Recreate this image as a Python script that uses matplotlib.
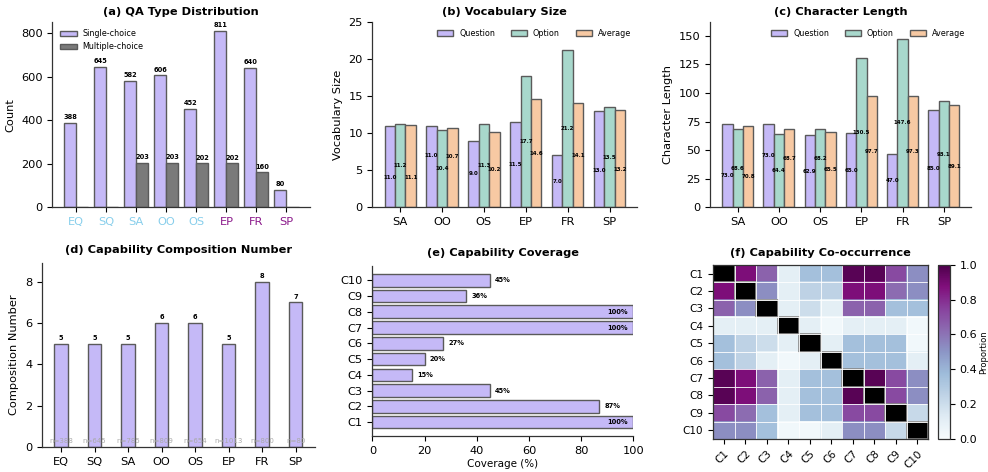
import numpy as np
import matplotlib
matplotlib.use("Agg")
import matplotlib.pyplot as plt
from matplotlib.patches import Rectangle

# ---- data ----
qa_types = ['EQ', 'SQ', 'SA', 'OO', 'OS', 'EP', 'FR', 'SP']
single_choice = [388, 645, 582, 606, 452, 811, 640, 80]
multi_choice = [0, 0, 203, 203, 202, 202, 160, 0]

len_types = ['SA', 'OO', 'OS', 'EP', 'FR', 'SP']
vocab_question = [11.0, 11.0, 9.0, 11.5, 7.0, 13.0]
vocab_option = [11.2, 10.4, 11.3, 17.7, 21.2, 13.5]
vocab_average = [11.1, 10.7, 10.2, 14.6, 14.1, 13.2]
char_question = [73.0, 73.0, 62.9, 65.0, 47.0, 85.0]
char_option = [68.6, 64.4, 68.2, 130.5, 147.6, 93.1]
char_average = [70.8, 68.7, 65.5, 97.7, 97.3, 89.1]

comp_number = [5, 5, 5, 6, 6, 5, 8, 7]
comp_n = [388, 645, 785, 809, 654, 1013, 800, 80]

capabilities = ['C1', 'C2', 'C3', 'C4', 'C5', 'C6', 'C7', 'C8', 'C9', 'C10']
coverage = [100, 87, 45, 15, 20, 27, 100, 100, 36, 45]

cooc = np.array([
    [1.00, 0.88, 0.65, 0.10, 0.35, 0.35, 0.97, 0.97, 0.72, 0.52],
    [0.88, 1.00, 0.52, 0.10, 0.25, 0.25, 0.88, 0.88, 0.62, 0.52],
    [0.65, 0.52, 1.00, 0.10, 0.20, 0.10, 0.65, 0.65, 0.35, 0.35],
    [0.10, 0.10, 0.10, 1.00, 0.10, 0.03, 0.10, 0.10, 0.10, 0.03],
    [0.35, 0.25, 0.20, 0.10, 1.00, 0.10, 0.35, 0.35, 0.35, 0.03],
    [0.35, 0.25, 0.10, 0.03, 0.10, 1.00, 0.35, 0.35, 0.35, 0.10],
    [0.97, 0.88, 0.65, 0.10, 0.35, 0.35, 1.00, 0.97, 0.72, 0.52],
    [0.97, 0.88, 0.65, 0.10, 0.35, 0.35, 0.97, 1.00, 0.72, 0.52],
    [0.72, 0.62, 0.35, 0.10, 0.35, 0.35, 0.72, 0.72, 1.00, 0.22],
    [0.52, 0.52, 0.35, 0.03, 0.03, 0.10, 0.52, 0.52, 0.22, 1.00],
])

# label shift multipliers for (b)/(c) value labels, to avoid overlap
vocab_shift = [[-1, 0, -1], [1, 0, 1], [0, 0, 0], [0, 0, 0], [0, 0, 0], [-1, 0, -1]]
char_shift = [[-1, 0, -1], [1, 0, 1], [0, 1, 0], [0, 0, 0], [0, 0, 0], [-1, 0, -1]]

# ---- style ----
LAV = '#c5b9f7'
TEAL = '#a8d8cc'
PEACH = '#f7c9a3'
GRAY = '#7a7a7a'
EDGE = '#5a5a5a'
TICK = 8.2
TITLE = 8.2
LEG = 5.8
plt.rcParams['font.family'] = 'DejaVu Sans'
plt.rcParams['axes.edgecolor'] = '#333333'
plt.rcParams['axes.linewidth'] = 0.9


def despine(ax):
    ax.spines['top'].set_visible(False)
    ax.spines['right'].set_visible(False)


fig = plt.figure(figsize=(9.88, 4.72), dpi=100)

# (a) QA Type Distribution
ax = fig.add_axes([0.053, 0.561, 0.261, 0.392])
x = np.arange(len(qa_types))
w = 0.4
ax.bar(x - w / 2, single_choice, w, color=LAV, edgecolor=EDGE, linewidth=1, label='Single-choice')
ax.bar(x + w / 2, multi_choice, w, color=GRAY, edgecolor=EDGE, linewidth=1, label='Multiple-choice')
for xi, v in zip(x, single_choice):
    ax.text(xi - w / 2, v + 12, str(v), ha='center', va='bottom', fontsize=4.8, fontweight='bold')
for xi, v in zip(x, multi_choice):
    if v > 0:
        ax.text(xi + w / 2, v + 12, str(v), ha='center', va='bottom', fontsize=4.8, fontweight='bold')
ax.set_xticks(x)
ax.set_xticklabels(qa_types, fontsize=TICK)
for i, t in enumerate(ax.get_xticklabels()):
    t.set_color('#87ceeb' if i < 5 else '#8b1a8b')
ax.set_ylim(0, 850)
ax.set_yticks([0, 200, 400, 600, 800])
ax.tick_params(axis='y', labelsize=TICK)
ax.set_ylabel('Count', fontsize=TICK)
ax.set_title('(a) QA Type Distribution', fontsize=TITLE, fontweight='bold', pad=5)
ax.legend(loc='upper left', fontsize=LEG, frameon=False, handlelength=2.1, handletextpad=0.7,
          borderaxespad=0.5, labelspacing=0.5)
despine(ax)


def grouped(ax, q, o, a, shifts, step, ymax, yticks, ylabel, title):
    x = np.arange(len(len_types))
    w = 0.25
    series = [(q, LAV, 'Question'), (o, TEAL, 'Option'), (a, PEACH, 'Average')]
    for k, (vals, col, lab) in enumerate(series):
        xs = x + (k - 1) * w
        ax.bar(xs, vals, w, color=col, edgecolor=EDGE, linewidth=1, label=lab)
        for j, (xx, v) in enumerate(zip(xs, vals)):
            ax.text(xx, v / 2 + shifts[j][k] * step, f'{v:.1f}', ha='center', va='center',
                    fontsize=4.0, fontweight='bold')
    ax.set_xticks(x)
    ax.set_xticklabels(len_types, fontsize=TICK)
    ax.set_ylim(0, ymax)
    ax.set_yticks(yticks)
    ax.tick_params(axis='y', labelsize=TICK)
    ax.set_ylabel(ylabel, fontsize=TICK)
    ax.set_title(title, fontsize=TITLE, fontweight='bold', pad=5)
    ax.legend(loc='upper right', ncol=3, fontsize=LEG, frameon=False, columnspacing=2.0,
              handlelength=2.0, handletextpad=0.7, bbox_to_anchor=(1.0, 1.0), borderaxespad=0.4)
    despine(ax)


# (b) Vocabulary Size
ax = fig.add_axes([0.377, 0.561, 0.268, 0.392])
grouped(ax, vocab_question, vocab_option, vocab_average, vocab_shift, 1.5, 25,
        [0, 5, 10, 15, 20, 25], 'Vocabulary Size', '(b) Vocabulary Size')

# (c) Character Length
ax = fig.add_axes([0.719, 0.561, 0.264, 0.392])
grouped(ax, char_question, char_option, char_average, char_shift, 8.5, 162,
        [0, 25, 50, 75, 100, 125, 150], 'Character Length', '(c) Character Length')

# (d) Capability Composition Number
ax = fig.add_axes([0.0425, 0.053, 0.276, 0.39])
x = np.arange(len(qa_types))
ax.bar(x, comp_number, 0.4, color=LAV, edgecolor=EDGE, linewidth=1)
for xi, v, n in zip(x, comp_number, comp_n):
    ax.text(xi, v + 0.12, str(v), ha='center', va='bottom', fontsize=4.8, fontweight='bold')
    ax.text(xi, 0.15, f'n={n}', ha='center', va='bottom', fontsize=5.0, color='#aaaaaa')
ax.set_xticks(x)
ax.set_xticklabels(qa_types, fontsize=TICK)
ax.set_ylim(0, 8.9)
ax.set_yticks([0, 2, 4, 6, 8])
ax.tick_params(axis='y', labelsize=TICK)
ax.set_ylabel('Composition Number', fontsize=TICK)
ax.set_title('(d) Capability Composition Number', fontsize=TITLE, fontweight='bold', pad=7)
despine(ax)

# (e) Capability Coverage
ax = fig.add_axes([0.377, 0.076, 0.264, 0.36])
y = np.arange(len(capabilities))
ax.barh(y, coverage, 0.8, color=LAV, edgecolor=EDGE, linewidth=1)
for yi, v in zip(y, coverage):
    if v >= 95:
        ax.text(v - 2, yi, f'{v}%', ha='right', va='center', fontsize=4.8, fontweight='bold')
    else:
        ax.text(v + 2, yi, f'{v}%', ha='left', va='center', fontsize=4.8, fontweight='bold')
ax.set_yticks(y)
ax.set_yticklabels(capabilities, fontsize=TICK)
ax.set_xlim(0, 100)
ax.tick_params(axis='x', labelsize=TICK)
ax.set_xlabel('Coverage (%)', fontsize=7.5, labelpad=2)
ax.set_title('(e) Capability Coverage', fontsize=TITLE, fontweight='bold', pad=7)
despine(ax)

# (f) Capability Co-occurrence
ax = fig.add_axes([0.7217, 0.070, 0.2176, 0.369])
cax = fig.add_axes([0.9494, 0.070, 0.0121, 0.369])
masked = np.ma.masked_where(np.eye(len(capabilities), dtype=bool), cooc)
im = ax.imshow(masked, cmap='BuPu', vmin=0, vmax=1, aspect='auto')
n = len(capabilities)
for i in range(n + 1):
    ax.axhline(i - 0.5, color='white', linewidth=0.6)
    ax.axvline(i - 0.5, color='white', linewidth=0.6)
for i in range(n):
    ax.add_patch(Rectangle((i - 0.5, i - 0.5), 1, 1, facecolor='black', edgecolor='#888888', linewidth=1.2))
ax.set_xticks(range(n))
ax.set_yticks(range(n))
ax.set_xticklabels(capabilities, rotation=45, ha='right', fontsize=7.5, rotation_mode='anchor')
ax.set_yticklabels(capabilities, fontsize=7.5)
ax.set_xlim(-0.5, n - 0.5)
ax.set_ylim(n - 0.5, -0.5)
ax.set_title('(f) Capability Co-occurrence', fontsize=TITLE, fontweight='bold', pad=6)
cb = fig.colorbar(im, cax=cax)
cb.set_ticks([0, 0.2, 0.4, 0.6, 0.8, 1.0])
cb.ax.tick_params(labelsize=8)
cb.set_label('Proportion', fontsize=6, labelpad=1)

fig.savefig('out.png', dpi=100)
